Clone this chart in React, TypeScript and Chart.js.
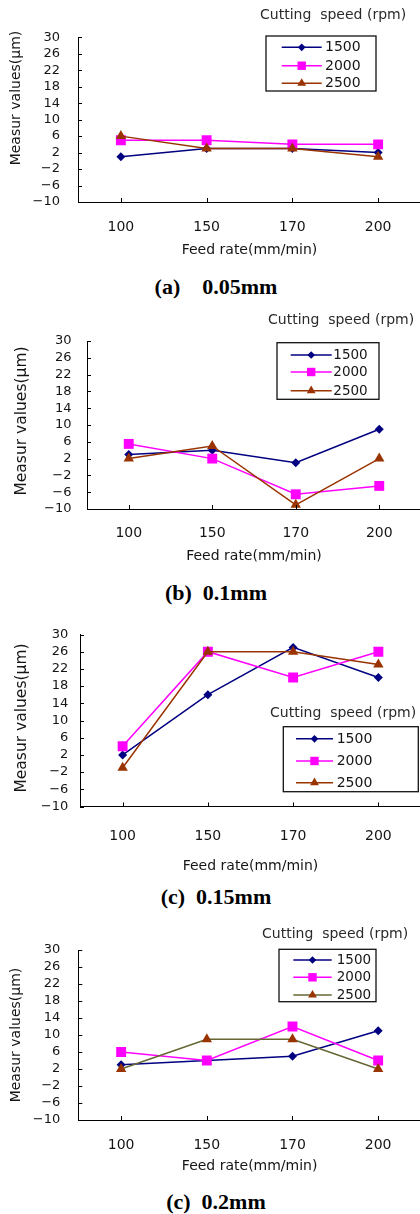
import React, { useEffect, useRef } from 'react';
import { Chart, registerables } from 'chart.js';

Chart.register(...registerables);

// ---------- data ----------
const FEED_RATES = ['100', '150', '170', '200'];
const SPEEDS = ['1500', '2000', '2500'];
const Y_TICKS = [-10, -6, -2, 2, 6, 10, 14, 18, 22, 26, 30];
const X_TITLE = 'Feed rate(mm/min)';
const Y_TITLE = 'Measur values(μm)';
const LEGEND_TITLE = 'Cutting  speed (rpm)';

const A_1500 = [1, 3, 3, 2];
const A_2000 = [5, 5, 4, 4];
const A_2500 = [6, 3, 3, 1];

const B_1500 = [3, 4, 1, 9];
const B_2000 = [5.5, 2, -6.5, -4.5];
const B_2500 = [2, 5, -9, 2];

const C_1500 = [2, 16, 27, 20];
const C_2000 = [4, 26, 20, 26];
const C_2500 = [-1, 26, 26, 23];

const D_1500 = [3, 4, 5, 11];
const D_2000 = [6, 4, 12, 4];
const D_2500 = [2, 9, 9, 2];

const CAPTIONS = ['(a)    0.05mm', '(b)  0.1mm', '(c)  0.15mm', '(c)  0.2mm'];

// ---------- styles / layout ----------
const FONT = '"DejaVu Sans", sans-serif';
const TEXT = '#151515';
const CANVAS_W = 441;
const PLOT_RIGHT = 421;
const SERIES_STYLE = [
  { color: '#000080', pointStyle: 'rectRot', radius: 4.5 },
  { color: '#FF00FF', pointStyle: 'rect', radius: 7 },
  { color: '#993300', pointStyle: 'triangle', radius: 6 },
];

type Cfg = {
  series: number[][];
  caption: string;
  captionY: number;
  canvasTop: number;
  height: number;
  plotTop: number;
  plotBottom: number;
  plotLeft: number;
  yTickPad: number;
  xLabelY: number;
  xTitleY: number;
  yTitleX: number;
  yTitleY: number;
  yTitleSize: number;
  line2500: string;
  lgTitleX: number;
  lgTitleY: number;
  lgBox: [number, number, number, number];
  lgRows: number[];
  lgLine: [number, number];
  lgTextX: number;
  lgFont: number;
};

const PANELS: Cfg[] = [
  {
    series: [A_1500, A_2000, A_2500], caption: CAPTIONS[0], captionY: 287,
    canvasTop: 0, height: 262, plotTop: 37.3, plotBottom: 202, plotLeft: 78, yTickPad: 18,
    xLabelY: 227, xTitleY: 250.3, yTitleX: 16.7, yTitleY: 98, yTitleSize: 14, line2500: '#993300',
    lgTitleX: 260, lgTitleY: 15, lgBox: [266, 36, 110, 55], lgRows: [47.3, 65.7, 83.3],
    lgLine: [281.7, 321.7], lgTextX: 325, lgFont: 14,
  },
  {
    series: [B_1500, B_2000, B_2500], caption: CAPTIONS[1], captionY: 592.7,
    canvasTop: 300, height: 268, plotTop: 341, plotBottom: 509, plotLeft: 87, yTickPad: 15.5,
    xLabelY: 533.3, xTitleY: 556.7, yTitleX: 21.5, yTitleY: 421, yTitleSize: 15.5, line2500: '#993300',
    lgTitleX: 268, lgTitleY: 320, lgBox: [277, 342.7, 102, 56.6], lgRows: [355, 372, 390.7],
    lgLine: [290.7, 331.7], lgTextX: 333.3, lgFont: 13.5,
  },
  {
    series: [C_1500, C_2000, C_2500], caption: CAPTIONS[2], captionY: 896.7,
    canvasTop: 615, height: 263, plotTop: 630.5, plotBottom: 806.5, plotLeft: 80, yTickPad: 11.7,
    xLabelY: 836.7, xTitleY: 866.7, yTitleX: 21.5, yTitleY: 718, yTitleSize: 15.5, line2500: '#993300',
    lgTitleX: 270, lgTitleY: 713.3, lgBox: [283.3, 726.7, 135, 65], lgRows: [738.8, 761, 782.7],
    lgLine: [296, 333], lgTextX: 336.7, lgFont: 14,
  },
  {
    series: [D_1500, D_2000, D_2500], caption: CAPTIONS[3], captionY: 1201.7,
    canvasTop: 915, height: 262, plotTop: 950, plotBottom: 1120, plotLeft: 78.3, yTickPad: 18,
    xLabelY: 1145, xTitleY: 1166.7, yTitleX: 16.7, yTitleY: 1035, yTitleSize: 14, line2500: '#666633',
    lgTitleX: 262, lgTitleY: 934, lgBox: [279, 949.3, 97, 52.4], lgRows: [960, 977.3, 995],
    lgLine: [293.3, 331.7], lgTextX: 336.7, lgFont: 13.5,
  },
];

function drawMarker(ctx: CanvasRenderingContext2D, style: string, x: number, y: number, r: number) {
  ctx.beginPath();
  if (style === 'rectRot') {
    ctx.moveTo(x - r, y);
    ctx.lineTo(x, y - r);
    ctx.lineTo(x + r, y);
    ctx.lineTo(x, y + r);
  } else if (style === 'rect') {
    const h = r * Math.SQRT1_2;
    ctx.rect(x - h, y - h, 2 * h, 2 * h);
  } else {
    ctx.moveTo(x, y - r);
    ctx.lineTo(x + r * 0.866, y + r / 2);
    ctx.lineTo(x - r * 0.866, y + r / 2);
  }
  ctx.closePath();
  ctx.fill();
}

function decorPlugin(cfg: Cfg) {
  const off = cfg.canvasTop;
  return {
    id: 'decor',
    afterDraw(chart: any) {
      const ctx: CanvasRenderingContext2D = chart.ctx;
      const xs = chart.scales.x;
      const ys = chart.scales.y;
      const area = chart.chartArea;
      ctx.save();
      // inside tick marks
      ctx.strokeStyle = '#000';
      ctx.lineWidth = 1;
      ctx.beginPath();
      Y_TICKS.forEach((v) => {
        const y = Math.round(ys.getPixelForValue(v)) + 0.5;
        ctx.moveTo(area.left, y);
        ctx.lineTo(area.left + 4, y);
      });
      FEED_RATES.forEach((_, i) => {
        const x = Math.round(xs.getPixelForValue(i)) + 0.5;
        ctx.moveTo(x, area.bottom);
        ctx.lineTo(x, area.bottom - 4);
      });
      ctx.stroke();

      // y axis title
      ctx.save();
      ctx.translate(cfg.yTitleX, cfg.yTitleY - off);
      ctx.rotate(-Math.PI / 2);
      ctx.fillStyle = TEXT;
      ctx.font = `${cfg.yTitleSize}px ${FONT}`;
      ctx.textAlign = 'center';
      ctx.textBaseline = 'middle';
      ctx.fillText(Y_TITLE, 0, 0);
      ctx.restore();

      // legend title
      ctx.fillStyle = '#2a2a2a';
      ctx.font = `14px ${FONT}`;
      ctx.textAlign = 'left';
      ctx.textBaseline = 'middle';
      ctx.fillText(LEGEND_TITLE, cfg.lgTitleX, cfg.lgTitleY - off);

      // legend box
      const [bx, by, bw, bh] = cfg.lgBox;
      ctx.fillStyle = '#fff';
      ctx.fillRect(bx, by - off, bw, bh);
      ctx.strokeStyle = '#111';
      ctx.lineWidth = 1.3;
      ctx.strokeRect(bx, by - off, bw, bh);

      chart.data.datasets.forEach((ds: any, i: number) => {
        const y = cfg.lgRows[i] - off;
        const st = SERIES_STYLE[i];
        ctx.strokeStyle = ds.borderColor;
        ctx.lineWidth = 1.5;
        ctx.beginPath();
        ctx.moveTo(cfg.lgLine[0], y);
        ctx.lineTo(cfg.lgLine[1], y);
        ctx.stroke();
        ctx.fillStyle = st.color;
        drawMarker(ctx, st.pointStyle, (cfg.lgLine[0] + cfg.lgLine[1]) / 2, y, st.radius * 0.85);
        ctx.fillStyle = TEXT;
        ctx.font = `${cfg.lgFont}px ${FONT}`;
        ctx.fillText(ds.label, cfg.lgTextX, y + 0.5);
      });
      ctx.restore();
    },
  };
}

function Panel({ cfg }: { cfg: Cfg }) {
  const ref = useRef<HTMLCanvasElement>(null);
  useEffect(() => {
    if (!ref.current) return;
    const off = cfg.canvasTop;
    const plotTop = cfg.plotTop - off;
    const plotBottom = cfg.plotBottom - off;
    const H = cfg.height;
    const xAxisH = H - plotBottom;
    const labelPad = cfg.xLabelY - cfg.plotBottom - 8.4;
    const titlePadBottom = H - (cfg.xTitleY - off) - 8.4;

    const chart = new Chart(ref.current, {
      type: 'line',
      data: {
        labels: FEED_RATES,
        datasets: SPEEDS.map((s, i) => ({
          label: s,
          data: cfg.series[i],
          borderColor: i === 2 ? cfg.line2500 : SERIES_STYLE[i].color,
          backgroundColor: SERIES_STYLE[i].color,
          pointBackgroundColor: SERIES_STYLE[i].color,
          pointBorderColor: SERIES_STYLE[i].color,
          pointBorderWidth: 0,
          pointStyle: SERIES_STYLE[i].pointStyle as any,
          pointRadius: SERIES_STYLE[i].radius,
          borderWidth: 1.5,
          tension: 0,
          fill: false,
          order: 3 - i,
        })),
      },
      options: {
        responsive: false,
        animation: false,
        devicePixelRatio: 1,
        events: [],
        layout: { padding: { top: plotTop, right: CANVAS_W - PLOT_RIGHT, left: 0, bottom: 0 } },
        plugins: {
          legend: { display: false },
          tooltip: { enabled: false },
          title: { display: false },
        },
        scales: {
          x: {
            type: 'category',
            offset: true,
            grid: { display: false, drawTicks: false },
            border: { display: true, color: '#000', width: 1 },
            ticks: {
              padding: labelPad,
              autoSkip: false,
              maxRotation: 0,
              color: TEXT,
              font: { family: FONT, size: 14 },
            },
            title: {
              display: true,
              text: X_TITLE,
              color: TEXT,
              font: { family: FONT, size: 14 },
              padding: { top: 0, bottom: titlePadBottom },
            },
            afterFit: (s: any) => {
              s.height = xAxisH;
            },
          },
          y: {
            type: 'linear',
            min: -10,
            max: 30,
            afterBuildTicks: (s: any) => {
              s.ticks = Y_TICKS.map((v) => ({ value: v }));
            },
            grid: { display: false, drawTicks: false },
            border: { display: true, color: '#000', width: 1 },
            ticks: {
              padding: cfg.yTickPad,
              autoSkip: false,
              color: TEXT,
              font: { family: FONT, size: 13 },
              callback: (v: any) => String(v).replace('-', '\u2212'),
            },
            afterFit: (s: any) => {
              s.width = cfg.plotLeft;
            },
          },
        },
      },
      plugins: [decorPlugin(cfg)],
    } as any);
    return () => chart.destroy();
  }, [cfg]);

  return (
    <canvas
      ref={ref}
      width={CANVAS_W}
      height={cfg.height}
      style={{ position: 'absolute', left: 0, top: cfg.canvasTop, width: CANVAS_W, height: cfg.height, display: 'block' }}
    />
  );
}

export default function App() {
  return (
    <div
      style={{
        position: 'absolute',
        left: 0,
        top: 0,
        width: 420,
        height: 1214,
        overflow: 'hidden',
        background: '#fff',
      }}
    >
      {PANELS.map((cfg, i) => (
        <React.Fragment key={i}>
          <Panel cfg={cfg} />
          <div
            style={{
              position: 'absolute',
              left: 66,
              width: 300,
              top: cfg.captionY - 13,
              height: 26,
              lineHeight: '26px',
              textAlign: 'center',
              whiteSpace: 'pre',
              fontFamily: '"Liberation Serif", "Times New Roman", serif',
              fontWeight: 'bold',
              fontSize: 22,
              color: '#000',
            }}
          >
            {cfg.caption}
          </div>
        </React.Fragment>
      ))}
    </div>
  );
}
